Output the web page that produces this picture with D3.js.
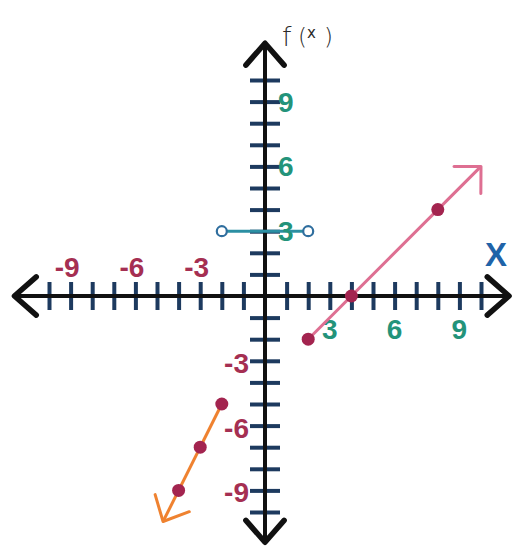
<!DOCTYPE html>
<html>
<head>
<meta charset="utf-8">
<script src="https://cdn.jsdelivr.net/npm/d3@7"></script>
<style>
  html, body { margin: 0; padding: 0; background: #ffffff; }
  svg { display: block; }
</style>
</head>
<body>
<svg id="chart" width="517" height="546"></svg>
<script>
// Tick positions on both axes (integers, origin skipped)
const xTickValues = [-10, -9, -8, -7, -6, -5, -4, -3, -2, -1, 1, 2, 3, 4, 5, 6, 7, 8, 9, 10];
const yTickValues = [-10, -9, -8, -7, -6, -5, -4, -3, -2, -1, 1, 2, 3, 4, 5, 6, 7, 8, 9, 10];
const xNegLabels = [-9, -6, -3];
const xPosLabels = [3, 6, 9];
const yPosLabels = [9, 6, 3];
const yNegLabels = [-3, -6, -9];

// Axis arrow tips (in axis units)
const xAxisExtent = [-11.6, 11.3];
const yAxisExtent = [-11.4, 11.7];

// Piece 1: constant segment f(x) = 3 with open endpoints
const flatSegment = [[-2, 3], [2, 3]];
// Piece 2: ray f(x) = x - 4 starting at (2, -2)
const risingPoints = [[2, -2], [4, 0], [8, 4]];
const risingRayEnd = [10, 6];
// Piece 3: ray f(x) = 2x - 1 heading down from (-2, -5)
const fallingPoints = [[-2, -5], [-3, -7], [-4, -9]];
const fallingRayEnd = [-4.72, -10.44];

const svg = d3.select("#chart");
const x = d3.scaleLinear().domain([-10, 10]).range([49, 481]);
const y = d3.scaleLinear().domain([-10, 10]).range([512, 80]);
const x0 = x(0), y0 = y(0);

const tickColor = "#1d3a5f";
const negColor = "#a52f52";
const posColor = "#23937a";
const labelFont = "'Liberation Sans', Arial, sans-serif";

// Tick marks via d3 axes, extended to both sides of the axis line
const xAxis = d3.axisBottom(x).tickValues(xTickValues).tickFormat("").tickSizeOuter(0);
svg.append("g")
  .attr("transform", `translate(0,${y0})`)
  .call(xAxis)
  .call(g => g.select(".domain").remove())
  .call(g => g.selectAll(".tick line")
    .attr("y1", -14).attr("y2", 14)
    .attr("stroke", tickColor).attr("stroke-width", 4));

const yAxis = d3.axisLeft(y).tickValues(yTickValues).tickFormat("").tickSizeOuter(0);
svg.append("g")
  .attr("transform", `translate(${x0},0)`)
  .call(yAxis)
  .call(g => g.select(".domain").remove())
  .call(g => g.selectAll(".tick line")
    .attr("x1", -15).attr("x2", 15)
    .attr("stroke", tickColor).attr("stroke-width", 4));

// Axis lines with chevron arrowheads
const axes = svg.append("g")
  .attr("stroke", "#111").attr("fill", "none")
  .attr("stroke-linecap", "round").attr("stroke-linejoin", "round");
axes.append("line")
  .attr("x1", x(xAxisExtent[0])).attr("x2", x(xAxisExtent[1]))
  .attr("y1", y0).attr("y2", y0).attr("stroke-width", 4);
axes.append("line")
  .attr("x1", x0).attr("x2", x0)
  .attr("y1", y(yAxisExtent[0])).attr("y2", y(yAxisExtent[1])).attr("stroke-width", 4);

function chevron(g, tipX, tipY, dx, dy, len, half, width, color) {
  // dx,dy: direction the arrow points
  const a = Math.atan2(dy, dx) + Math.PI;
  const p1 = [tipX + len * Math.cos(a - half), tipY + len * Math.sin(a - half)];
  const p2 = [tipX + len * Math.cos(a + half), tipY + len * Math.sin(a + half)];
  g.append("path")
    .attr("d", `M${p1[0]},${p1[1]}L${tipX},${tipY}L${p2[0]},${p2[1]}`)
    .attr("fill", "none").attr("stroke", color).attr("stroke-width", width)
    .attr("stroke-linecap", "round").attr("stroke-linejoin", "round");
}
chevron(axes, x(xAxisExtent[0]), y0, -1, 0, 29, 0.72, 5.5, "#111");
chevron(axes, x(xAxisExtent[1]), y0, 1, 0, 29, 0.72, 5.5, "#111");
chevron(axes, x0, y(yAxisExtent[1]), 0, -1, 29, 0.72, 5.5, "#111");
chevron(axes, x0, y(yAxisExtent[0]), 0, 1, 29, 0.72, 5.5, "#111");

// Constant piece (drawn under the labels)
svg.append("line")
  .attr("x1", x(flatSegment[0][0])).attr("x2", x(flatSegment[1][0]))
  .attr("y1", y(flatSegment[0][1])).attr("y2", y(flatSegment[1][1]))
  .attr("stroke", "#2b8fa3").attr("stroke-width", 3);

// Tick labels
const labels = svg.append("g")
  .attr("font-family", labelFont).attr("font-weight", "bold").attr("font-size", 28);
labels.selectAll(".xneg").data(xNegLabels).join("text")
  .attr("x", d => x(d) + 9).attr("y", y0 - 19)
  .attr("text-anchor", "end").attr("fill", negColor).text(d => d);
labels.selectAll(".xpos").data(xPosLabels).join("text")
  .attr("x", d => x(d)).attr("y", y0 + 43)
  .attr("text-anchor", "middle").attr("fill", posColor).text(d => d);
labels.selectAll(".ypos").data(yPosLabels).join("text")
  .attr("x", x0 + 13).attr("y", d => y(d) + 10)
  .attr("text-anchor", "start").attr("fill", posColor).text(d => d);
labels.selectAll(".yneg").data(yNegLabels).join("text")
  .attr("x", x0 - 16).attr("y", d => y(d) + 12)
  .attr("text-anchor", "end").attr("fill", negColor).text(d => d);

// Axis names
svg.append("text")
  .attr("x", 496).attr("y", 266)
  .attr("text-anchor", "middle")
  .attr("font-family", labelFont).attr("font-weight", "bold").attr("font-size", 33)
  .attr("fill", "#1f63a8").text("X");

const fx = svg.append("g").attr("font-family", "'DejaVu Sans', sans-serif").attr("fill", "#2a2a2a");
fx.append("text").attr("x", 282).attr("y", 46).attr("font-size", 27).attr("font-weight", 300).text("f");
fx.append("text").attr("x", 298).attr("y", 45).attr("font-size", 23).attr("font-weight", 300).text("(");
fx.append("text").attr("x", 307).attr("y", 38).attr("font-size", 15).attr("font-weight", 400).text("x");
fx.append("text").attr("x", 324).attr("y", 45).attr("font-size", 23).attr("font-weight", 300).text(")");

// Open endpoints of the constant piece
svg.selectAll(".open").data(flatSegment).join("circle")
  .attr("cx", d => x(d[0])).attr("cy", d => y(d[1])).attr("r", 5)
  .attr("fill", "#fff").attr("stroke", "#2f6e9e").attr("stroke-width", 2.2);

// Rising ray
const rays = svg.append("g");
rays.append("line")
  .attr("x1", x(risingPoints[0][0])).attr("y1", y(risingPoints[0][1]))
  .attr("x2", x(risingRayEnd[0])).attr("y2", y(risingRayEnd[1]))
  .attr("stroke", "#de6f92").attr("stroke-width", 3);
chevron(rays, x(risingRayEnd[0]), y(risingRayEnd[1]),
  x(risingRayEnd[0]) - x(risingPoints[0][0]), y(risingRayEnd[1]) - y(risingPoints[0][1]),
  27, 0.78, 3, "#de6f92");

// Falling ray
rays.append("line")
  .attr("x1", x(fallingPoints[0][0])).attr("y1", y(fallingPoints[0][1]))
  .attr("x2", x(fallingRayEnd[0])).attr("y2", y(fallingRayEnd[1]))
  .attr("stroke", "#ef8230").attr("stroke-width", 3);
chevron(rays, x(fallingRayEnd[0]), y(fallingRayEnd[1]),
  x(fallingRayEnd[0]) - x(fallingPoints[0][0]), y(fallingRayEnd[1]) - y(fallingPoints[0][1]),
  28, 0.75, 3, "#ef8230");

// Closed points
svg.selectAll(".pt").data(risingPoints.concat(fallingPoints)).join("circle")
  .attr("cx", d => x(d[0])).attr("cy", d => y(d[1])).attr("r", 6.5)
  .attr("fill", "#a3244f");
</script>
</body>
</html>
